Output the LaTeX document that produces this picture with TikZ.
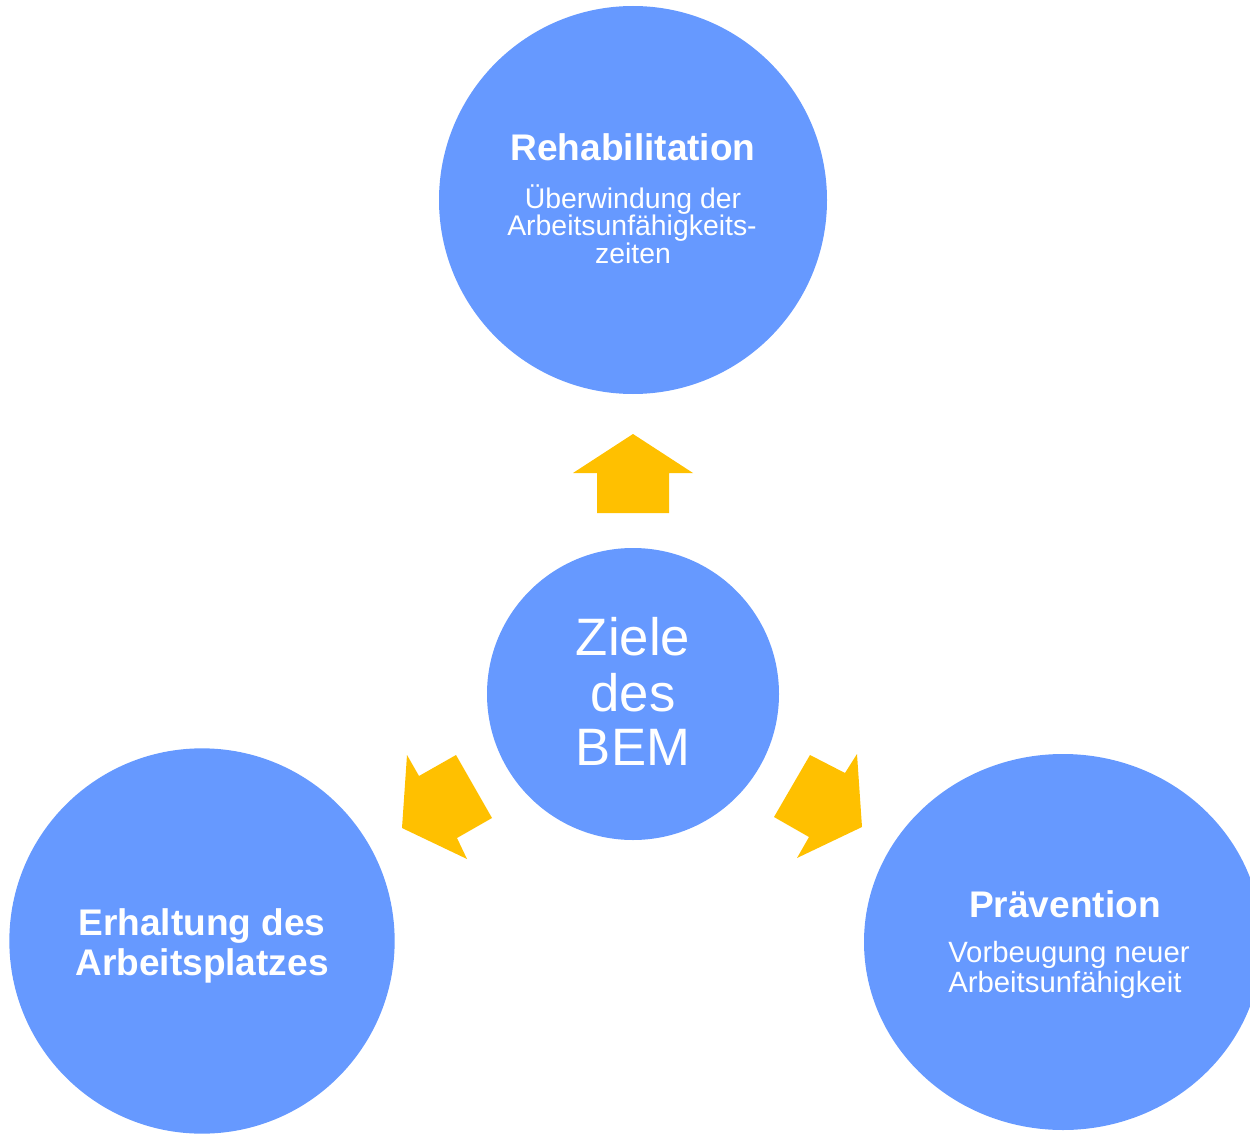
\documentclass[tikz,border=0pt]{standalone}
\usepackage{fontspec}
\setmainfont{Liberation Sans}
\usetikzlibrary{shapes.geometric}
\definecolor{bemblue}{HTML}{6699FF}
\definecolor{bemyellow}{HTML}{FFC000}
\begin{document}
\begin{tikzpicture}[x=0.75pt,y=-0.75pt,
  goal/.style={circle,fill=bemblue,draw=none,inner sep=0},
  arr/.style={fill=bemyellow,draw=none},
  headtxt/.style={text=white,font=\bfseries\fontsize{27.8}{30}\selectfont,anchor=base,inner sep=0},
  subtxt/.style={text=white,font=\fontsize{21.3}{22}\selectfont,anchor=base,inner sep=0},
  subtxtb/.style={text=white,font=\fontsize{22}{22}\selectfont,anchor=base west,inner sep=0},
  bigtxt/.style={text=white,font=\fontsize{39.5}{41}\selectfont,anchor=base,inner sep=0},
]
\useasboundingbox (0,0) rectangle (1250,1138);
\clip (0,0) rectangle (1250,1138);
% circles
\node[goal,minimum size=291pt] (reha) at (633,200) {};
\node[goal,minimum size=219pt] (ziele) at (633,694) {};
\node[goal,minimum size=289pt] (erh) at (202,941) {};
\node[ellipse,fill=bemblue,draw=none,inner sep=0,minimum width=298.5pt,minimum height=282pt] (prae) at (1063,942) {};
% arrows
\fill[arr] (633,434) -- (693,473) -- (669,473) -- (669,513) -- (597,513) -- (597,473) -- (573,473) -- cycle;
\fill[arr] (402,828) -- (407,755) -- (419,776) -- (456,755) -- (492,818) -- (457,838) -- (467,859) -- cycle;
\fill[arr] (862,827) -- (857,754) -- (845,773) -- (810,755) -- (774,817) -- (809,837) -- (797,858) -- cycle;
% texts
\node[headtxt] (rehaH) at (633,160) {Rehabilitation};
\node[subtxt] (rehaA) at (633,208) {Überwindung der};
\node[subtxt] (rehaB) at (632,235) {Arbeitsunfähigkeits-};
\node[subtxt] (rehaC) at (633,263) {zeiten};
\node[bigtxt] (zielA) at (633,655) {Ziele};
\node[bigtxt] (zielB) at (633,711) {des};
\node[bigtxt] (zielC) at (633,765) {BEM};
\node[headtxt] (erhA) at (202,935) {Erhaltung des};
\node[headtxt] (erhB) at (202,975) {Arbeitsplatzes};
\node[headtxt] (praeH) at (1065,917) {Prävention};
\node[subtxtb] (praeA) at (948,962) {Vorbeugung neuer};
\node[subtxtb] (praeB) at (948,992) {Arbeitsunfähigkeit};
\end{tikzpicture}
\end{document}
